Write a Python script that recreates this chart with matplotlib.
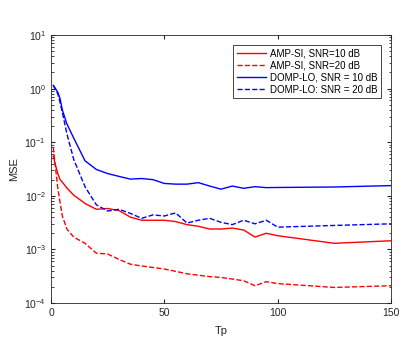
import numpy as np
import matplotlib.pyplot as plt

# eixo Tp
tp = [1, 2, 3, 4, 5, 7, 10, 15, 20, 25, 30, 35, 40, 45, 50, 55, 60, 65, 70, 75,
      80, 85, 90, 95, 100, 125, 150]

amp_10 = [0.055, 0.037, 0.026, 0.020, 0.018, 0.014, 0.0103, 0.0072, 0.0056, 0.0058,
          0.0053, 0.0040, 0.0035, 0.0035, 0.0035, 0.0033, 0.0029, 0.0027, 0.0024,
          0.0024, 0.0025, 0.0023, 0.0017, 0.0020, 0.0018, 0.0013, 0.00145]
amp_20 = [0.08, 0.033, 0.014, 0.0075, 0.0042, 0.0024, 0.0017, 0.0013, 0.00085,
          0.00082, 0.00065, 0.00053, 0.00049, 0.00046, 0.00043, 0.00039, 0.00035,
          0.00033, 0.00031, 0.0003, 0.00028, 0.00026, 0.00021, 0.00025, 0.00023,
          0.000195, 0.00021]
domp_10 = [1.15, 1.0, 0.85, 0.65, 0.40, 0.22, 0.12, 0.045, 0.031, 0.026, 0.023,
           0.0205, 0.021, 0.020, 0.017, 0.0165, 0.0165, 0.0176, 0.0152, 0.0133,
           0.0152, 0.0138, 0.0148, 0.0142, 0.0143, 0.0146, 0.0155]
domp_20 = [1.15, 0.95, 0.8, 0.55, 0.36, 0.145, 0.048, 0.0148, 0.0068, 0.0052,
           0.0056, 0.0047, 0.0038, 0.0044, 0.0042, 0.0048, 0.0031, 0.0035, 0.0038,
           0.0032, 0.0029, 0.0035, 0.0030, 0.0035, 0.0026, 0.0028, 0.0030]

labels = ['AMP-SI, SNR=10 dB', 'AMP-SI, SNR=20 dB',
          'DOMP-LO, SNR = 10 dB', 'DOMP-LO: SNR = 20 dB']

plt.rcParams['font.family'] = ['Liberation Sans', 'DejaVu Sans']

fig = plt.figure(figsize=(4.15, 3.47), dpi=100)
ax = fig.add_axes([51/415, 44/347, 340/415, 268/347])

ax.semilogy(tp, amp_10, '-', color='#ff0000', lw=1.0, label=labels[0])
ax.semilogy(tp, amp_20, '--', color='#ff0000', lw=1.0, label=labels[1])
ax.semilogy(tp, domp_10, '-', color='#0000ff', lw=1.0, label=labels[2])
ax.semilogy(tp, domp_20, '--', color='#0000ff', lw=1.0, label=labels[3])

ax.set_xlim(0, 150)
ax.set_ylim(1e-4, 1e1)
ax.set_xticks([0, 50, 100, 150])
ax.tick_params(which='both', direction='in', top=True, right=True,
               labelsize=7.5, color='#262626', labelcolor='#262626')
ax.tick_params(which='major', length=3)
ax.tick_params(which='minor', length=1.8)
for s in ax.spines.values():
    s.set_color('#262626')
    s.set_linewidth(0.6)

ax.set_xlabel('Tp', fontsize=8, color='#262626', labelpad=6)
ax.set_ylabel('MSE', fontsize=8, color='#262626')

leg = ax.legend(loc='upper right', fontsize=7, fancybox=False, framealpha=1,
                edgecolor='#262626', borderpad=0.35, labelspacing=0.22,
                handlelength=3.0, handletextpad=0.4, borderaxespad=0,
                bbox_to_anchor=(0.970, 0.963))
leg.get_frame().set_linewidth(0.6)

fig.savefig('out.png', dpi=100)
